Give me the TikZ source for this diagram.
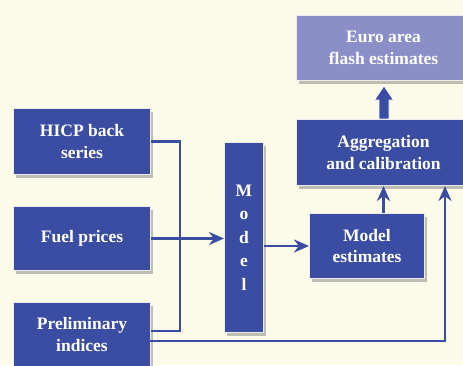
\documentclass[tikz,border=0pt]{standalone}
\usepackage{fontspec}
\setmainfont{Liberation Serif}
\usetikzlibrary{arrows.meta,shadows}
\definecolor{bg}{RGB}{252,250,232}
\definecolor{boxblue}{RGB}{59,77,162}
\definecolor{lightblue}{RGB}{138,143,200}
\begin{document}
\begin{tikzpicture}[x=1pt,y=-1pt,
 box/.style={draw=white!85!gray, line width=1pt, fill=boxblue, text=white,
   font=\bfseries\fontsize{17.5}{21.5}\selectfont, align=center, anchor=north west,
   inner sep=0pt,
   drop shadow={shadow xshift=2pt,shadow yshift=-3pt,opacity=0.35,fill=black!70}},
 conn/.style={draw=boxblue, line width=2.5pt},
 arr/.style={conn, -{Stealth[length=15pt,width=13pt]}}]
\fill[bg] (0,0) rectangle (463,365);
\useasboundingbox (0,0) rectangle (463,365);

\node[box, minimum width=137pt, minimum height=66pt] (hicp) at (13,108) {HICP back\\series};
\node[box, minimum width=137pt, minimum height=64pt] (fuel) at (13,206) {Fuel prices};
\node[box, minimum width=137pt, minimum height=64pt] (prel) at (13,302) {Preliminary\\indices};
\node[box, minimum width=39pt, minimum height=190pt,
  font=\bfseries\fontsize{17.5}{23.5}\selectfont] (model) at (224,142) {M\\o\\d\\e\\l};
\node[box, minimum width=115pt, minimum height=65pt] (mest) at (309,213) {Model\\estimates};
\node[box, minimum width=174pt, minimum height=66pt] (agg) at (296,119) {Aggregation\\and calibration};
\node[box, fill=lightblue, minimum width=174pt, minimum height=65pt] (euro) at (296,15) {Euro area\\flash estimates};

\coordinate (bus) at (180,331);
\draw[conn] (hicp.east) -| (bus) -- (bus -| prel.east);
\draw[arr] (fuel.east) -- (model.west |- fuel.east);
\draw[arr] (model.east |- mest.west) -- (mest.west);
\draw[arr] (mest.north -| agg.south) -- (agg.south);
\coordinate (pr) at (150,341);
\coordinate (corner) at (445,341);
\draw[arr] (pr) -- (corner) -- (corner |- agg.south);

\draw[white, fill=boxblue, line width=0.7pt]
  (379,119) -- (379,100) -- (374.5,100) -- (384,86) -- (393.5,100) -- (389,100) -- (389,119) -- cycle;
\end{tikzpicture}
\end{document}
